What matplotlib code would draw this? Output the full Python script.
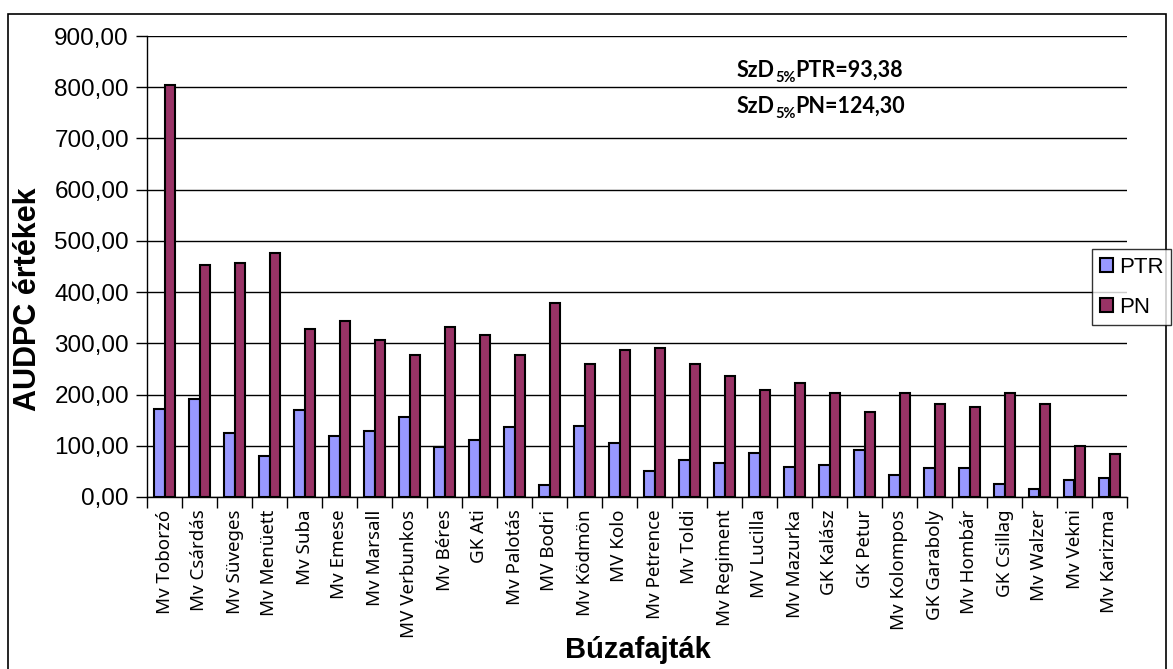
import matplotlib
matplotlib.use("Agg")
from matplotlib import pyplot as plt
from matplotlib.patches import Rectangle
from matplotlib.ticker import FuncFormatter
from matplotlib.transforms import offset_copy
import numpy as np

# búzafajták és AUDPC értékek
fajtak = ["Mv Toborzó", "Mv Csárdás", "Mv Süveges", "Mv Menüett", "Mv Suba",
          "Mv Emese", "Mv Marsall", "MV Verbunkos", "Mv Béres", "GK Ati",
          "Mv Palotás", "MV Bodri", "Mv Ködmön", "MV Kolo", "Mv Petrence",
          "Mv Toldi", "Mv Regiment", "MV Lucilla", "Mv Mazurka", "GK Kalász",
          "GK Petur", "Mv Kolompos", "GK Garaboly", "Mv Hombár", "GK Csillag",
          "Mv Walzer", "Mv Vekni", "Mv Karizma"]
ptr = [171, 191, 124, 80, 169, 120, 128, 156, 98, 112,
       136, 24, 138, 106, 51, 72, 67, 86, 59, 63,
       92, 43, 57, 57, 26, 16, 34, 38]
pn = [804, 452, 457, 476, 328, 343, 306, 278, 331, 317,
      278, 378, 260, 287, 290, 260, 237, 209, 222, 204,
      165, 203, 181, 175, 203, 181, 99, 84]
szd = [("PTR=93,38"), ("PN=124,30")]

W, H = 1173, 669
fig = plt.figure(figsize=(W / 100, H / 100), dpi=100)
ax = fig.add_axes([147 / W, 1 - 497 / H, (1127 - 147) / W, (497 - 36) / H])

x = np.arange(len(fajtak))
bw = 0.29
ax.bar(x - bw / 2, ptr, bw, color="#9999FF", edgecolor="black", linewidth=1.5, label="PTR", zorder=3)
ax.bar(x + bw / 2, pn, bw, color="#993366", edgecolor="black", linewidth=1.5, label="PN", zorder=3)

ax.set_xlim(-0.5, len(fajtak) - 0.5)
ax.set_ylim(0, 900)
ax.set_yticks(np.arange(0, 901, 100))
ax.yaxis.set_major_formatter(FuncFormatter(lambda v, p: f"{v:.2f}".replace(".", ",")))
ax.grid(axis="y", color="black", linewidth=1, zorder=0)
ax.set_xticks(np.arange(-0.5, len(fajtak), 1))
ax.set_xticklabels([])
ax.set_xticks(x, minor=True)
ax.set_xticklabels(fajtak, minor=True, rotation=90, fontfamily="Noto Sans", fontsize=13.5)
ax.tick_params(axis="x", which="minor", length=0, pad=9)
ax.tick_params(axis="x", which="major", length=8, width=1, direction="out")
ax.tick_params(axis="y", length=8, width=1, direction="out", labelsize=17.5, pad=5)
for lab in ax.get_yticklabels():
    lab.set_fontfamily("Liberation Sans")
for s in ["top", "right"]:
    ax.spines[s].set_visible(False)
ax.spines["left"].set_linewidth(1)
ax.spines["bottom"].set_linewidth(1)

fig.text(28 / W, 1 - 299 / H, "AUDPC értékek", fontsize=22, fontweight="bold",
         fontfamily="Liberation Sans", ha="center", va="center", rotation=90)
fig.text(638 / W, 1 - 650 / H, "Búzafajták", fontsize=21, fontweight="bold",
         fontfamily="Liberation Sans", ha="center", va="center")

# SzD5% szövegek, alsó indexszel
renderer = fig.canvas.get_renderer()
for i, rest in enumerate(szd):
    y = 1 - (77 + 36 * i) / H
    t = fig.text(737 / W, y, "SzD", fontsize=15.5, fontweight="bold",
                 fontfamily="Lato", ha="left", va="baseline")
    ext = t.get_window_extent(renderer)
    t2 = fig.text(ext.x1 / W, y - 5 / H, "5%", fontsize=10.5, fontweight="bold",
                  fontfamily="Lato", ha="left", va="baseline")
    ext2 = t2.get_window_extent(renderer)
    fig.text(ext2.x1 / W, y, rest, fontsize=15.5, fontweight="bold",
             fontfamily="Lato", ha="left", va="baseline")

leg = fig.legend(loc="upper left", bbox_to_anchor=(1092 / W, 1 - 249 / H),
                 prop={"family": "Liberation Sans", "size": 16}, frameon=True,
                 fancybox=False, handlelength=0.6, handleheight=0.6, handletextpad=0.25,
                 borderpad=0.35, labelspacing=0.85, borderaxespad=0)
leg.get_frame().set_edgecolor("black")
leg.get_frame().set_linewidth(1)

# külső keret
fig.patches.append(Rectangle((8 / W, -0.01), (1166 - 8) / W, 1 - 14 / H + 0.01,
                             transform=fig.transFigure, fill=False,
                             edgecolor="black", linewidth=1.2, zorder=0))

fig.savefig("out.png", dpi=100)
